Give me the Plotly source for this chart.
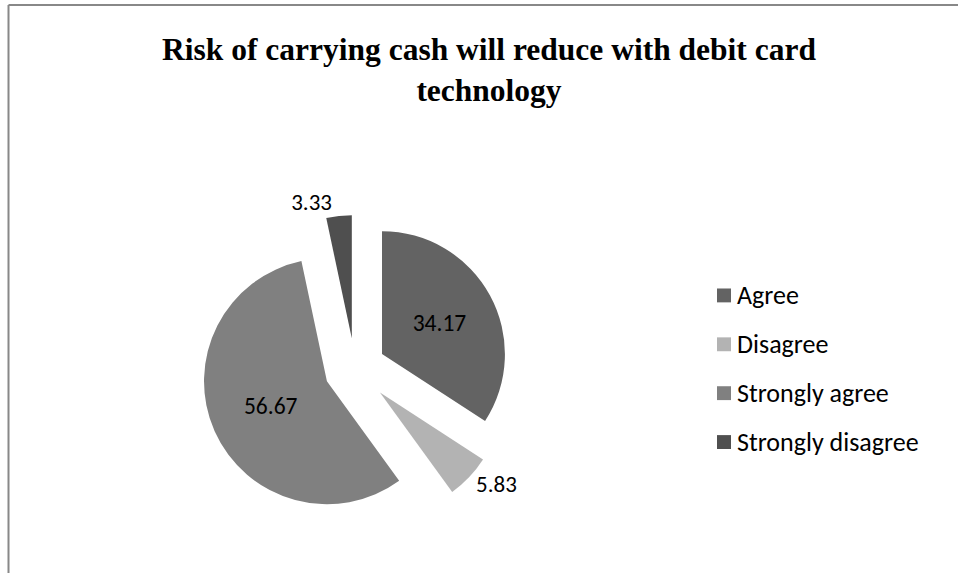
import plotly.graph_objects as go

# Survey responses (%)
labels = ["Agree", "Disagree", "Strongly agree", "Strongly disagree"]
values = [34.17, 5.83, 56.67, 3.33]
colors = ["#636363", "#b3b3b3", "#808080", "#4f4f4f"]
pulls = [0.25, 0.28, 0.25, 0.25]
text_positions = ["inside", "outside", "inside", "outside"]

title_text = "Risk of carrying cash will reduce with debit card<br>technology"

W, H = 958, 578
label_font = "Carlito, Calibri, Lato, sans-serif"

fig = go.Figure()
fig.add_trace(go.Pie(
    labels=labels,
    values=values,
    sort=False,
    direction="clockwise",
    rotation=0,
    pull=pulls,
    marker=dict(colors=colors, line=dict(width=0)),
    textinfo="value",
    textposition=text_positions,
    insidetextorientation="horizontal",
    textfont=dict(family=label_font, size=23, color="#000000"),
    outsidetextfont=dict(family=label_font, size=23, color="#000000"),
    insidetextfont=dict(family=label_font, size=23.5, color="#000000"),
    domain=dict(x=[196.3 / W, 513.7 / W], y=[1 - 530.7 / H, 1 - 213.3 / H]),
    showlegend=False,
    hoverinfo="label+value",
))

# Legend: colour swatch + label per category
legend_x = 717
legend_y0 = 298
legend_step = 49.3
sw = 14
shapes = []
annotations = []
for i, (lab, col) in enumerate(zip(labels, colors)):
    cy = legend_y0 + i * legend_step
    shapes.append(dict(
        type="rect", xref="paper", yref="paper",
        x0=legend_x / W, x1=(legend_x + sw) / W,
        y0=1 - (cy + sw / 2) / H, y1=1 - (cy - sw / 2) / H,
        fillcolor=col, line=dict(width=0),
    ))
    annotations.append(dict(
        text=lab, xref="paper", yref="paper",
        x=(legend_x + sw + 4) / W, y=1 - cy / H,
        xanchor="left", yanchor="middle", showarrow=False,
        font=dict(family=label_font, size=26, color="#000000"),
    ))

# Chart frame (left and top edges)
frame = dict(color="#888888", width=2)
shapes.append(dict(type="line", xref="paper", yref="paper",
                   x0=8.5 / W, x1=8.5 / W, y0=0, y1=1 - 5 / H, line=frame))
shapes.append(dict(type="line", xref="paper", yref="paper",
                   x0=8.5 / W, x1=1, y0=1 - 5 / H, y1=1 - 5 / H, line=frame))

fig.update_layout(
    width=W, height=H,
    margin=dict(l=0, r=0, t=0, b=0),
    paper_bgcolor="#ffffff",
    plot_bgcolor="#ffffff",
    title=dict(
        text=title_text,
        x=489 / W, xanchor="center",
        y=1 - 60 / H, yanchor="top", yref="container",
        font=dict(family="Liberation Serif, Times New Roman, serif", size=31.5, color="#000000", weight="bold"),
    ),
    shapes=shapes,
    annotations=annotations,
)

fig.write_html("out.html")
